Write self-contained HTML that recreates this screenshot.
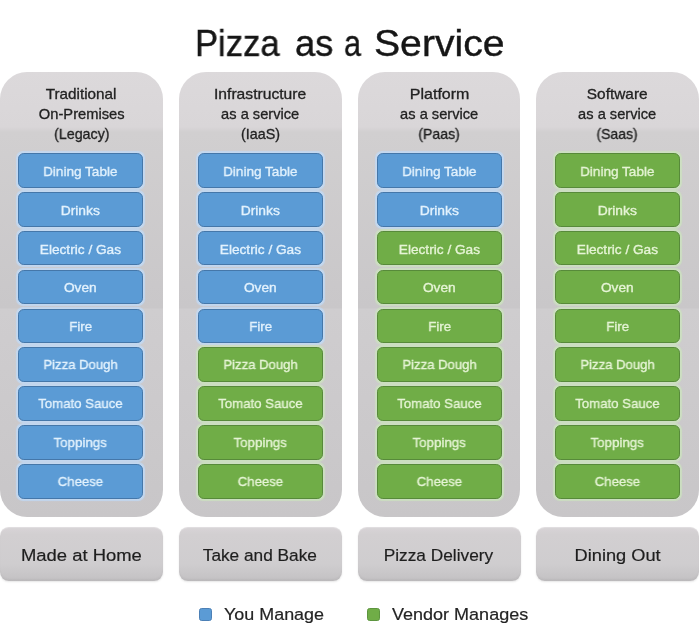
<!DOCTYPE html>
<html lang="en">
<head>
<meta charset="utf-8">
<title>Pizza as a Service</title>
<style>
html,body{margin:0;padding:0;background:#fff;}
body{width:699px;height:636px;position:relative;overflow:hidden;font-family:"Liberation Sans",sans-serif;}
span{display:inline-block;transform-origin:50% 50%;will-change:transform;}
.title{-webkit-text-stroke:0.4px currentColor;position:absolute;left:0;top:22px;width:699px;font-size:36.5px;line-height:44px;color:#161616;white-space:nowrap;}
.title span{position:absolute;top:0;transform-origin:0 50%;}
.col{position:absolute;top:72px;width:162.6px;height:444.5px;border-radius:27px;background:linear-gradient(180deg,#dcd9db 0%,#d9d6d8 12.3%,#d1cfd0 13.5%,#c9c7c9 52.9%,#cfcdcf 53.4%,#c8c6c8 100%);}
.hd{-webkit-text-stroke:0.3px currentColor;position:absolute;left:0;top:12.9px;width:162.6px;text-align:center;font-size:14.3px;line-height:19.9px;color:#222;white-space:nowrap;}
.box{position:absolute;-webkit-text-stroke:0.35px currentColor;width:125px;height:34.7px;border-radius:5.8px;box-sizing:border-box;text-align:center;font-size:13.6px;line-height:35px;white-space:nowrap;}
.lo{line-height:34.4px;}
.b{background:#5b9bd5;border:1px solid #4577a9;border-bottom-width:1.5px;color:#e3f2fd;box-shadow:0 0 1px 1.3px rgba(192,219,247,.8);}
.g{background:#70ad47;border:1px solid #578a3a;border-bottom-width:1.5px;color:#e6f4d6;box-shadow:0 0 1px 1.3px rgba(204,228,190,.8);}
.ft{-webkit-text-stroke:0.2px currentColor;box-shadow:0 1px 2px rgba(0,0,0,.10),inset 0 -2px 2px rgba(0,0,0,.04),inset 0 1px 1px rgba(255,255,255,.25);position:absolute;top:527px;width:163.2px;margin-left:-0.3px;height:53.5px;border-radius:8.9px;background:linear-gradient(180deg,#d8d4d7 0%,#d2cfd1 14%,#cfcdcf 68%,#c7c5c7 90%,#c2c0c2 100%);text-align:center;font-size:17.2px;line-height:56px;color:#1e1e1e;white-space:nowrap;}
.lg{-webkit-text-stroke:0.2px currentColor;position:absolute;top:603px;font-size:17.2px;line-height:22px;color:#242424;white-space:nowrap;}
.lg span{transform-origin:0 50%;}
.sq{position:absolute;top:608.3px;width:13.6px;height:12.8px;border-radius:2.6px;box-sizing:border-box;}
</style>
</head>
<body>
<div class="title"><span style="left:195.1px;transform:scaleX(0.948)">Pizza</span> <span style="left:294.7px;transform:scaleX(0.994)">as</span> <span style="left:344.0px;transform:scaleX(0.835)">a</span> <span style="left:373.6px;transform:scaleX(1.073)">Service</span></div>
<div class="col" style="left:0.3px">
  <div class="hd"><span style="transform:scaleX(1.069)">Traditional</span><br><span style="transform:scaleX(1.028)">On-Premises</span><br><span style="transform:scaleX(0.996)">(Legacy)</span></div>
  <div class="box b" style="left:17.7px;top:81.0px"><span style="transform:scaleX(0.996)">Dining Table</span></div>
  <div class="box b" style="left:17.7px;top:119.9px"><span style="transform:scaleX(1.019)">Drinks</span></div>
  <div class="box b" style="left:17.7px;top:158.8px"><span style="transform:scaleX(1.005)">Electric / Gas</span></div>
  <div class="box b lo" style="left:17.7px;top:197.6px"><span style="transform:scaleX(1.006)">Oven</span></div>
  <div class="box b lo" style="left:17.7px;top:236.5px"><span style="transform:scaleX(0.982)">Fire</span></div>
  <div class="box b lo" style="left:17.7px;top:275.4px"><span style="transform:scaleX(0.964)">Pizza Dough</span></div>
  <div class="box b lo" style="left:17.7px;top:314.3px"><span style="transform:scaleX(0.972)">Tomato Sauce</span></div>
  <div class="box b lo" style="left:17.7px;top:353.2px"><span style="transform:scaleX(0.980)">Toppings</span></div>
  <div class="box b lo" style="left:17.7px;top:392.0px"><span style="transform:scaleX(0.967)">Cheese</span></div>
</div>
<div class="ft" style="left:0.3px"><span style="transform:scaleX(1.072)">Made at Home</span></div>
<div class="col" style="left:179px">
  <div class="hd"><span style="transform:scaleX(1.095)">Infrastructure</span><br><span style="transform:scaleX(1.023)">as a service</span><br><span style="transform:scaleX(1.003)">(IaaS)</span></div>
  <div class="box b" style="left:19.0px;top:81.0px"><span style="transform:scaleX(0.996)">Dining Table</span></div>
  <div class="box b" style="left:19.0px;top:119.9px"><span style="transform:scaleX(1.019)">Drinks</span></div>
  <div class="box b" style="left:19.0px;top:158.8px"><span style="transform:scaleX(1.005)">Electric / Gas</span></div>
  <div class="box b lo" style="left:19.0px;top:197.6px"><span style="transform:scaleX(1.006)">Oven</span></div>
  <div class="box b lo" style="left:19.0px;top:236.5px"><span style="transform:scaleX(0.982)">Fire</span></div>
  <div class="box g lo" style="left:19.0px;top:275.4px"><span style="transform:scaleX(0.964)">Pizza Dough</span></div>
  <div class="box g lo" style="left:19.0px;top:314.3px"><span style="transform:scaleX(0.972)">Tomato Sauce</span></div>
  <div class="box g lo" style="left:19.0px;top:353.2px"><span style="transform:scaleX(0.980)">Toppings</span></div>
  <div class="box g lo" style="left:19.0px;top:392.0px"><span style="transform:scaleX(0.967)">Cheese</span></div>
</div>
<div class="ft" style="left:179px"><span style="transform:scaleX(1.004)">Take and Bake</span></div>
<div class="col" style="left:357.9px">
  <div class="hd"><span style="transform:scaleX(1.120)">Platform</span><br><span style="transform:scaleX(1.023)">as a service</span><br><span style="transform:scaleX(0.985)">(Paas)</span></div>
  <div class="box b" style="left:19.1px;top:81.0px"><span style="transform:scaleX(0.996)">Dining Table</span></div>
  <div class="box b" style="left:19.1px;top:119.9px"><span style="transform:scaleX(1.019)">Drinks</span></div>
  <div class="box g" style="left:19.1px;top:158.8px"><span style="transform:scaleX(1.005)">Electric / Gas</span></div>
  <div class="box g lo" style="left:19.1px;top:197.6px"><span style="transform:scaleX(1.006)">Oven</span></div>
  <div class="box g lo" style="left:19.1px;top:236.5px"><span style="transform:scaleX(0.982)">Fire</span></div>
  <div class="box g lo" style="left:19.1px;top:275.4px"><span style="transform:scaleX(0.964)">Pizza Dough</span></div>
  <div class="box g lo" style="left:19.1px;top:314.3px"><span style="transform:scaleX(0.972)">Tomato Sauce</span></div>
  <div class="box g lo" style="left:19.1px;top:353.2px"><span style="transform:scaleX(0.980)">Toppings</span></div>
  <div class="box g lo" style="left:19.1px;top:392.0px"><span style="transform:scaleX(0.967)">Cheese</span></div>
</div>
<div class="ft" style="left:357.9px;text-indent:-1px"><span style="transform:scaleX(1.006)">Pizza Delivery</span></div>
<div class="col" style="left:536.2px">
  <div class="hd"><span style="transform:scaleX(1.078)">Software</span><br><span style="transform:scaleX(1.023)">as a service</span><br><span style="transform:scaleX(0.978)">(Saas)</span></div>
  <div class="box g" style="left:19.0px;top:81.0px"><span style="transform:scaleX(0.996)">Dining Table</span></div>
  <div class="box g" style="left:19.0px;top:119.9px"><span style="transform:scaleX(1.019)">Drinks</span></div>
  <div class="box g" style="left:19.0px;top:158.8px"><span style="transform:scaleX(1.005)">Electric / Gas</span></div>
  <div class="box g lo" style="left:19.0px;top:197.6px"><span style="transform:scaleX(1.006)">Oven</span></div>
  <div class="box g lo" style="left:19.0px;top:236.5px"><span style="transform:scaleX(0.982)">Fire</span></div>
  <div class="box g lo" style="left:19.0px;top:275.4px"><span style="transform:scaleX(0.964)">Pizza Dough</span></div>
  <div class="box g lo" style="left:19.0px;top:314.3px"><span style="transform:scaleX(0.972)">Tomato Sauce</span></div>
  <div class="box g lo" style="left:19.0px;top:353.2px"><span style="transform:scaleX(0.980)">Toppings</span></div>
  <div class="box g lo" style="left:19.0px;top:392.0px"><span style="transform:scaleX(0.967)">Cheese</span></div>
</div>
<div class="ft" style="left:536.2px"><span style="transform:scaleX(1.061)">Dining Out</span></div>
<div class="sq" style="left:198.7px;background:#5b9bd5;border:1px solid #4c80b6"></div>
<div class="lg" style="left:224px"><span style="transform:scaleX(1.043)">You Manage</span></div>
<div class="sq" style="left:366.6px;background:#70ad47;border:1px solid #5d953f"></div>
<div class="lg" style="left:392px"><span style="transform:scaleX(1.048)">Vendor Manages</span></div>
</body>
</html>
